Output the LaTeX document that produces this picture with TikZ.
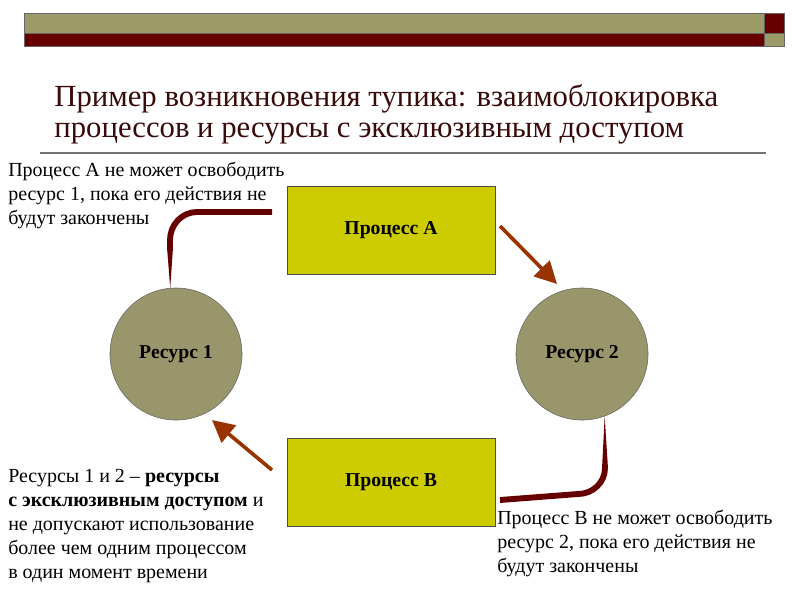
\documentclass[tikz,border=0pt]{standalone}
\usepackage{fontspec}
\setmainfont{Liberation Serif}
\usetikzlibrary{arrows.meta}
\definecolor{olivebar}{HTML}{9C9A66}
\definecolor{darkred}{HTML}{660000}
\definecolor{procfill}{HTML}{CCCC00}
\definecolor{resfill}{HTML}{99966B}
\definecolor{arrowbrown}{HTML}{993300}
\definecolor{titlecol}{HTML}{3A0A0A}
\tikzset{
  procbox/.style={draw=black!70, fill=procfill, minimum width=5.2cm, minimum height=2.2cm,
    font=\fontsize{14}{16}\selectfont\bfseries},
  resnode/.style={circle, draw=black!60, fill=resfill, minimum size=3.3cm,
    font=\fontsize{14}{16}\selectfont\bfseries},
  taper/.style={draw=darkred, line width=4.2pt},
  flow/.style={color=arrowbrown, line width=2.6pt, -{Triangle[length=0.55cm, width=0.55cm]}},
  note/.style={anchor=north west, inner sep=0pt, align=left,
    font=\fontsize{14.2}{17}\selectfont}
}
\begin{document}
\begin{tikzpicture}[x=0.025cm, y=-0.025cm]
  \useasboundingbox (0,0) rectangle (800,600);
  % header bars
  \draw[black!60, fill=olivebar] (24,13) rectangle (764,33);
  \draw[black!60, fill=darkred] (764,13) rectangle (784,33);
  \draw[black!60, fill=darkred] (24,33) rectangle (764,46);
  \draw[black!60, fill=olivebar] (764,33) rectangle (784,46);
  % title
  \node[anchor=base west, inner sep=0pt, text=titlecol, align=left, scale=1.56, transform shape,
    font=\fontsize{14}{14.1}\selectfont] (title) at (54,137)
    {Пример возникновения тупика: взаимоблокировка\\процессов и ресурсы с эксклюзивным доступом};
  \draw[black!55, line width=1pt] (40,153) -- (766,153);
  % processes and resources
  \node[procbox] (pa) at (391,230) {Процесс A};
  \node[procbox] (pb) at (391,482) {Процесс B};
  \node[resnode] (r1) at (176,354) {Ресурс 1};
  \node[resnode] (r2) at (582,354) {Ресурс 2};
  % tapered connectors
  \coordinate (ta) at (272,212);
  \coordinate (ka) at (170,248);
  \coordinate (tb) at (500,500);
  \coordinate (kb) at (605,468);
  \draw[taper] (ta) -- (197,212) to[out=180, in=90] (170,240) -- (ka);
  \fill[darkred] ([xshift=-2.1pt]ka) -- ([xshift=2.1pt]ka) -- (r1.95) -- cycle;
  \draw[taper] (tb) -- (578,494) to[out=0, in=-90] (kb);
  \fill[darkred] ([xshift=-2.1pt]kb) -- ([xshift=2.1pt]kb) -- (r2.-70) -- cycle;
  % arrows
  \coordinate (fa) at (500,226);
  \coordinate (fb) at (272,470);
  \draw[flow] (fa) -- (557,284);
  \draw[flow] (fb) -- (212,420);
  % notes
  \node[note] (na) at (8,162) {Процесс A не может освободить\\ресурс 1, пока его действия не\\будут закончены};
  \node[note] (nc) at (8,469) {Ресурсы 1 и 2 -- \textbf{ресурсы}\\\textbf{с эксклюзивным доступом} и\\не допускают использование\\более чем одним процессом\\в один момент времени};
  \node[note] (nb) at (497,510) {Процесс B не может освободить\\ресурс 2, пока его действия не\\будут закончены};
\end{tikzpicture}
\end{document}
